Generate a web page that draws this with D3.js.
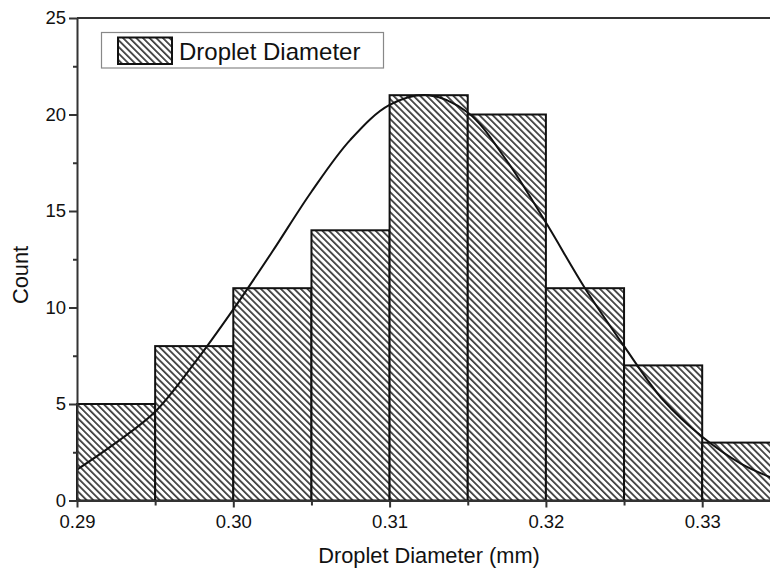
<!DOCTYPE html>
<html>
<head>
<meta charset="utf-8">
<script src="https://cdn.jsdelivr.net/npm/d3@7"></script>
<style>
  html, body { margin: 0; padding: 0; background: #fff; }
  svg { display: block; font-family: "Liberation Sans", Arial, Helvetica, sans-serif; }
</style>
</head>
<body>
<svg id="chart" width="770" height="569"></svg>
<script>
// Histogram of droplet diameters (bin start, mm) and their counts
const binStarts = [0.290, 0.295, 0.300, 0.305, 0.310, 0.315, 0.320, 0.325, 0.330];
const binWidth = 0.005;
const counts = [5, 8, 11, 14, 21, 20, 11, 7, 3];

// Fitted distribution curve, sampled points
const fitX = [0.2900, 0.2925, 0.2950, 0.2975, 0.3000, 0.3025, 0.3050, 0.3075, 0.3100,
              0.3125, 0.3150, 0.3175, 0.3200, 0.3225, 0.3250, 0.3275, 0.3300, 0.3325, 0.3350];
const fitY = [1.6, 3.0, 4.6, 7.1, 9.9, 12.9, 16.0, 18.7, 20.5,
              21.0, 20.1, 17.6, 14.4, 11.0, 8.0, 5.2, 3.3, 1.9, 1.0];

// Axis ticks
const xMajorTicks = [0.29, 0.30, 0.31, 0.32, 0.33];
const xMinorTicks = [0.295, 0.305, 0.315, 0.325];
const yMajorTicks = [0, 5, 10, 15, 20, 25];
const yMinorTicks = [2.5, 7.5, 12.5, 17.5, 22.5];

const legendLabel = "Droplet Diameter";
const xTitle = "Droplet Diameter (mm)";
const yTitle = "Count";

const svg = d3.select("#chart");
const plotLeft = 77, plotTop = 18, plotBottom = 500.5;

const x = d3.scaleLinear().domain([0.29, 0.335]).range([plotLeft, plotLeft + 0.045 * 15630]);
const y = d3.scaleLinear().domain([0, 25]).range([plotBottom, plotTop]);

// Diagonal hatch pattern
const hp = 4.7;
const defs = svg.append("defs");
const pat = defs.append("pattern")
  .attr("id", "hatch")
  .attr("patternUnits", "userSpaceOnUse")
  .attr("width", hp).attr("height", hp)
  .attr("patternTransform", "rotate(45)");
pat.append("rect").attr("width", hp).attr("height", hp).attr("fill", "#fff");
pat.append("line")
  .attr("x1", 0).attr("x2", hp).attr("y1", 1).attr("y2", 1)
  .attr("stroke", "#1a1a1a").attr("stroke-width", 1.5);

// Bars
svg.append("g").selectAll("rect")
  .data(binStarts.map((b, i) => ({ b, c: counts[i] })))
  .join("rect")
  .attr("x", d => x(d.b))
  .attr("y", d => y(d.c))
  .attr("width", d => x(d.b + binWidth) - x(d.b))
  .attr("height", d => y(0) - y(d.c))
  .attr("fill", "url(#hatch)")
  .attr("stroke", "#111")
  .attr("stroke-width", 2);

// Fit curve
const line = d3.line()
  .x((d, i) => x(fitX[i]))
  .y(d => y(d))
  .curve(d3.curveCatmullRom);
svg.append("path")
  .attr("d", line(fitY))
  .attr("fill", "none")
  .attr("stroke", "#111")
  .attr("stroke-width", 2);

// Axes
const axisColor = "#333";
svg.append("g").attr("transform", `translate(0,${plotBottom})`)
  .call(d3.axisBottom(x).tickValues(xMajorTicks).tickFormat(d3.format(".2f"))
    .tickSize(7).tickSizeOuter(0).tickPadding(7));
svg.append("g").attr("transform", `translate(0,${plotBottom})`)
  .call(d3.axisBottom(x).tickValues(xMinorTicks).tickFormat("").tickSize(5).tickSizeOuter(0))
  .call(g => g.select(".domain").remove());

svg.append("g").attr("transform", `translate(${plotLeft},0)`)
  .call(d3.axisLeft(y).tickValues(yMajorTicks).tickSize(8).tickSizeOuter(0).tickPadding(3));
svg.append("g").attr("transform", `translate(${plotLeft},0)`)
  .call(d3.axisLeft(y).tickValues(yMinorTicks).tickFormat("").tickSize(4).tickSizeOuter(0))
  .call(g => g.select(".domain").remove());

svg.selectAll(".domain, .tick line").attr("stroke", axisColor).attr("stroke-width", 2);
svg.selectAll(".tick text").attr("font-size", 18.5).attr("fill", "#111")
  .attr("font-family", "'Liberation Sans', Arial, sans-serif");

// Top frame line
svg.append("line")
  .attr("x1", plotLeft).attr("x2", 770).attr("y1", plotTop).attr("y2", plotTop)
  .attr("stroke", axisColor).attr("stroke-width", 2);

// Axis titles
svg.append("text")
  .attr("x", 429).attr("y", 562.5)
  .attr("text-anchor", "middle")
  .attr("font-size", 21.8).attr("fill", "#111")
  .text(xTitle);
svg.append("text")
  .attr("transform", "translate(27.5,275) rotate(-90)")
  .attr("text-anchor", "middle")
  .attr("font-size", 21.8).attr("fill", "#111")
  .text(yTitle);

// Legend
const lg = svg.append("g");
lg.append("rect")
  .attr("x", 101.5).attr("y", 32.5).attr("width", 282).attr("height", 35.5)
  .attr("fill", "#fff").attr("stroke", "#888").attr("stroke-width", 1.2);
lg.append("rect")
  .attr("x", 118).attr("y", 37.5).attr("width", 54).attr("height", 26.5)
  .attr("fill", "url(#hatch)").attr("stroke", "#111").attr("stroke-width", 2);
lg.append("text")
  .attr("x", 179).attr("y", 59.5)
  .attr("font-size", 24).attr("fill", "#111")
  .text(legendLabel);
</script>
</body>
</html>
